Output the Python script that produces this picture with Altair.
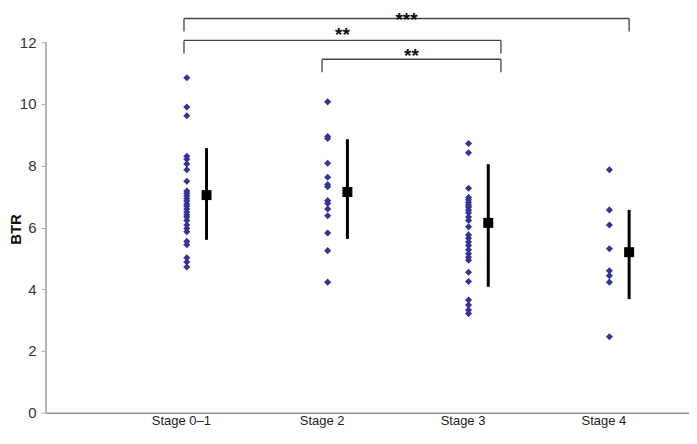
import altair as alt
import pandas as pd

# ---- data ----
stages = ["Stage 0–1", "Stage 2", "Stage 3", "Stage 4"]

stage01 = [10.85, 9.9, 9.62, 8.31, 8.21, 8.06, 7.87, 7.5, 7.18, 7.11, 7.03, 6.94,
           6.86, 6.76, 6.69, 6.6, 6.5, 6.41, 6.34, 6.23, 6.08, 5.97, 5.86, 5.55,
           5.44, 5.02, 4.88, 4.72]
stage2 = [10.07, 8.95, 8.88, 8.08, 7.63, 7.39, 7.32, 6.87, 6.78, 6.6, 6.38, 5.82,
          5.25, 4.23]
stage3 = [8.72, 8.42, 7.27, 6.97, 6.9, 6.81, 6.73, 6.66, 6.57, 6.48, 6.34, 6.23,
          6.02, 5.76, 5.65, 5.53, 5.42, 5.28, 5.15, 5.04, 4.94, 4.55, 4.25, 3.65,
          3.49, 3.33, 3.21]
stage4 = [7.87, 6.57, 6.08, 5.31, 4.6, 4.44, 4.23, 2.46]

means = [7.05, 7.15, 6.15, 5.2]
sd_low = [5.6, 5.63, 4.08, 3.68]
sd_high = [8.57, 8.86, 8.05, 6.57]

# significance brackets (x in stage-position units, y in BTR units)
bracket_x1 = [0.98, 0.98, 1.96]
bracket_x2 = [4.14, 3.23, 3.23]
bracket_y = [12.77, 12.06, 11.45]
bracket_drop = 0.42
bracket_text = ["***", "**", "**"]
text_y = [12.53, 12.04, 11.35]

groups = [stage01, stage2, stage3, stage4]
BAR_OFFSET = 0.14

pts = pd.DataFrame(
    [{"pos": i + 1, "stage": s, "btr": v}
     for i, (s, vals) in enumerate(zip(stages, groups)) for v in vals]
)
summ = pd.DataFrame({
    "pos": [i + 1 + BAR_OFFSET for i in range(len(stages))],
    "btr": means, "lo": sd_low, "hi": sd_high,
})
br = pd.DataFrame({
    "x1": bracket_x1, "x2": bracket_x2, "y": bracket_y,
    "ylo": [y - bracket_drop for y in bracket_y],
    "xm": [(a + b) / 2 for a, b in zip(bracket_x1, bracket_x2)],
    "ty": text_y, "label": bracket_text,
})

xscale = alt.Scale(domain=[0, 4.565], nice=False, zero=False)
yscale = alt.Scale(domain=[0, 13.1], nice=False, zero=True)

label_expr = "[" + ",".join("'" + s + "'" for s in stages) + "][datum.value - 1]"
xaxis = alt.Axis(values=[1, 2, 3, 4], labelExpr=label_expr, ticks=False,
                 domainColor="#555555", domainWidth=1, labelFontSize=13,
                 labelPadding=2, labelOffset=-6, labelColor="#222222",
                 grid=False, title=None)
yaxis = alt.Axis(values=list(range(0, 13, 2)), domain=False, tickColor="#aaaaaa",
                 tickSize=5, labelFontSize=15, labelPadding=5, labelColor="#333333",
                 grid=False, title="BTR", titleFontSize=15, titleFontWeight="bold",
                 titleColor="#111111", titleX=-22, titleY=221, titleAngle=-90)

X = lambda f: alt.X(f, scale=xscale, axis=xaxis, title=None)
Y = lambda f: alt.Y(f, scale=yscale, axis=yaxis, title="BTR")

yline = alt.Chart(pts).mark_rule(color="#b5b5b5", strokeWidth=1).encode(
    x=alt.value(0), y=alt.datum(0), y2=alt.datum(12)
)

points = alt.Chart(pts).mark_point(
    shape="diamond", filled=True, size=50, color="#333399", opacity=1
).encode(x=X("pos:Q"), y=Y("btr:Q"))

bars = alt.Chart(summ).mark_rule(color="black", strokeWidth=3).encode(
    x=X("pos:Q"), y=Y("lo:Q"), y2="hi:Q"
)
squares = alt.Chart(summ).mark_point(
    shape="square", filled=True, size=100, color="black", opacity=1
).encode(x=X("pos:Q"), y=Y("btr:Q"))

bh = alt.Chart(br).mark_rule(color="#444444", strokeWidth=1.3).encode(
    x=X("x1:Q"), x2="x2:Q", y=Y("y:Q")
)
bl = alt.Chart(br).mark_rule(color="#444444", strokeWidth=1.3).encode(
    x=X("x1:Q"), y=Y("y:Q"), y2="ylo:Q"
)
brr = alt.Chart(br).mark_rule(color="#444444", strokeWidth=1.3).encode(
    x=X("x2:Q"), y=Y("y:Q"), y2="ylo:Q"
)
txt = alt.Chart(br).mark_text(
    fontSize=19, fontWeight="bold", baseline="alphabetic", color="#111111"
).encode(x=X("xm:Q"), y=Y("ty:Q"), text="label:N")

chart = alt.layer(yline, bh, bl, brr, points, bars, squares, txt).properties(
    width=644, height=405,
    autosize=alt.AutoSizeParams(type="none"),
    padding={"left": 38, "top": 0, "right": 0, "bottom": 16},
).configure(font="Liberation Sans").configure_view(stroke=None)

chart.save("out.html", embed_options={"renderer": "svg", "actions": False})
